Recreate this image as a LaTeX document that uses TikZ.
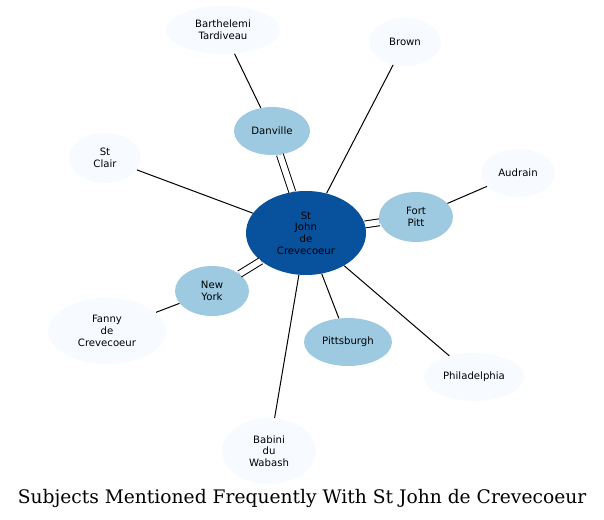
\documentclass[tikz,border=0pt]{standalone}
\usepackage{fontspec}
\setsansfont{DejaVu Sans}
\newfontfamily\titlefont{DejaVu Serif}
\usepackage{xcolor}
\usepackage{tikz}
\usetikzlibrary{shapes.geometric, arrows.meta, positioning}

\definecolor{hubblue}{HTML}{08519C}
\definecolor{midblue}{HTML}{9ECAE1}
\definecolor{paleblue}{HTML}{F7FBFF}

\begin{document}
\begin{tikzpicture}[
    x=0.75pt, y=-0.75pt,
    every node/.style={font=\sffamily\fontsize{7.6}{8.8}\selectfont},
    bubble/.style 2 args={
        ellipse, draw=none, inner sep=0pt, align=center,
        minimum width=#1*0.75pt, minimum height=#2*0.75pt
    },
    hub/.style={fill=hubblue},
    near/.style={fill=midblue},
    far/.style={fill=paleblue},
    link/.style={draw=black, line width=0.75pt},
    twinlink/.style={draw=black, line width=0.75pt, double=white, double distance=4.4pt}
]
\useasboundingbox (0,0) rectangle (604,520);

% Hub
\node[bubble={120}{84}, hub] (crevecoeur) at (306, 233) {St\\John\\de\\Crevecoeur};

% Inner ring
\node[bubble={76}{48}, near] (danville) at (272, 131) {Danville};
\node[bubble={74}{50}, near] (fortpitt) at (416, 217) {Fort\\Pitt};
\node[bubble={74}{50}, near] (newyork) at (212, 291) {New\\York};
\node[bubble={88}{48}, near] (pittsburgh) at (348, 342) {Pittsburgh};

% Outer ring
\node[bubble={114}{48}, far] (tardiveau) at (223, 30) {Barthelemi\\Tardiveau};
\node[bubble={72}{48}, far] (brown) at (405, 42) {Brown};
\node[bubble={72}{50}, far] (stclair) at (105, 158) {St\\Clair};
\node[bubble={74}{48}, far] (audrain) at (518, 173) {Audrain};
\node[bubble={118}{66}, far] (fanny) at (107, 331) {Fanny\\de\\Crevecoeur};
\node[bubble={100}{48}, far] (philadelphia) at (474, 377) {Philadelphia};
\node[bubble={94}{66}, far] (babini) at (269, 451) {Babini\\du\\Wabash};

% Title
\node[font=\titlefont\fontsize{14}{16}\selectfont] (title) at (302, 498) {Subjects Mentioned Frequently With St John de Crevecoeur};

% Links from the hub
\draw[twinlink] (crevecoeur) -- (danville);
\draw[twinlink] (crevecoeur) -- (fortpitt);
\draw[twinlink] (crevecoeur) -- (newyork);
\draw[link] (crevecoeur) -- (pittsburgh);
\draw[link] (crevecoeur) -- (brown);
\draw[link] (crevecoeur) -- (stclair);
\draw[link] (crevecoeur) -- (philadelphia);
\draw[link] (crevecoeur) -- (babini);

% Outer links
\draw[link] (danville) -- (tardiveau);
\draw[link] (fortpitt) -- (audrain);
\draw[link] (newyork) -- (fanny);

\end{tikzpicture}
\end{document}
